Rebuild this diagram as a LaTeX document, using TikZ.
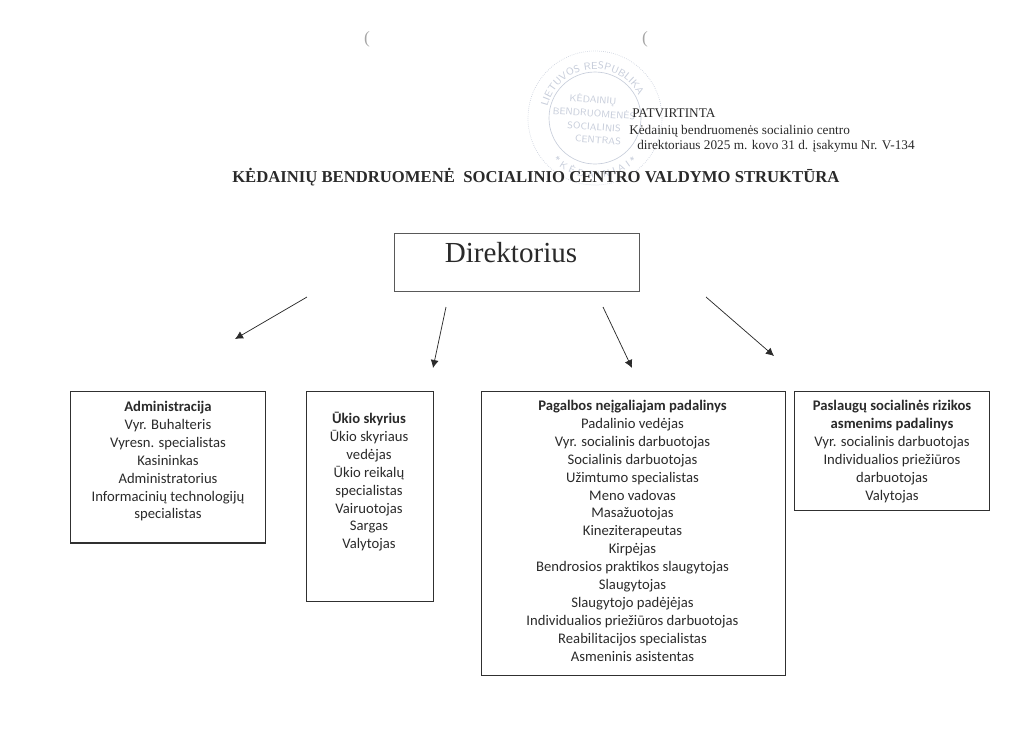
\documentclass[tikz,border=0pt]{standalone}
\usepackage{fontspec}
\setmainfont{Liberation Serif}
\newfontfamily\bodyfont{Carlito}
\usetikzlibrary{decorations.text,arrows.meta}
\definecolor{ink}{HTML}{2A2A2A}
\definecolor{boxline}{HTML}{303030}
\definecolor{stampc}{HTML}{C8CEDB}
\tikzset{
  x=0.75pt,y=-0.75pt,
  orgbox/.style={draw=boxline,line width=1pt,inner sep=0pt,anchor=north west},
  dirbox/.style={draw=boxline!80,line width=0.8pt,inner sep=0pt,anchor=north west},
  bodytext/.style={text=ink,inner sep=0pt,anchor=north,align=center,
    font=\bodyfont\fontsize{11pt}{13.42pt}\selectfont},
  serifline/.style={text=ink,inner sep=0pt,anchor=base west,font=\fontsize{9.95pt}{12pt}\selectfont},
  link/.style={draw=ink,line width=0.55pt,-{Latex[length=6pt,width=6pt]}},
  stampring/.style={draw=stampc,line width=0.5pt},
  stamptext/.style={text=stampc,inner sep=0pt,font=\fontsize{7.2pt}{8pt}\selectfont\sffamily,rotate=-4},
}
\begin{document}
\begin{tikzpicture}
\useasboundingbox (0,0) rectangle (1024,744);
% stamp
\draw[stampring,densely dotted] (595,118) circle[radius=67];
\draw[stampring] (595,118) circle[radius=46];
\path[decorate,decoration={text along path,text align=center,
  text={|\fontsize{7.6pt}{9pt}\selectfont\sffamily\color{stampc}|LIETUVOS RESPUBLIKA}}]
  (550.6,138.7) arc[start angle=155,end angle=371,radius=49];
\path[decorate,decoration={text along path,text align=center,
  text={|\fontsize{7.2pt}{8pt}\selectfont\sffamily\color{stampc}|* K Ė D A I N I A I *}}]
  (549,156.6) arc[start angle=140,end angle=40,radius=60];
\node[stamptext] (st1) at (593,100) {KĖDAINIŲ};
\node[stamptext] (st2) at (594,113) {BENDRUOMENĖS};
\node[stamptext] (st3) at (594,127) {SOCIALINIS};
\node[stamptext] (st4) at (598,140) {CENTRAS};
% scan marks
\node[text=gray!70,inner sep=0pt,font=\fontsize{13pt}{15pt}\selectfont] (pa) at (367,39) {(};
\node[text=gray!70,inner sep=0pt,font=\fontsize{13pt}{15pt}\selectfont] (pb) at (645,39) {(};
% header
\node[serifline] (h1) at (632,117.5) {PATVIRTINTA};
\node[serifline] (h2) at (629,134) {Kėdainių bendruomenės socialinio centro};
\node[serifline] (h3) at (637,149) {direktoriaus 2025 m. kovo 31 d. įsakymu Nr. V-134};
\node[text=ink,inner sep=0pt,anchor=base west,font=\bfseries\fontsize{12.5pt}{14pt}\selectfont] (title) at (232,182.5)
  {KĖDAINIŲ BENDRUOMENĖ\ \ SOCIALINIO CENTRO VALDYMO STRUKTŪRA};
% director
\node[dirbox,minimum width=184pt,minimum height=43.5pt] (dir) at (394,233) {};
\node[text=ink,inner sep=0pt,anchor=base,font=\fontsize{21.8pt}{24pt}\selectfont] (dirt) at (511,262) {Direktorius};
% boxes
\node[orgbox,minimum width=146pt,minimum height=113.5pt] (adm) at (70,391) {};
\node[orgbox,minimum width=95pt,minimum height=157.5pt] (uk) at (306,391) {};
\node[orgbox,minimum width=228pt,minimum height=213pt] (pag) at (481,391) {};
\node[orgbox,minimum width=146pt,minimum height=89pt] (pas) at (794,391) {};
\node[bodytext] (admt) at (168,401) {\textbf{Administracija}\\Vyr. Buhalteris\\Vyresn. specialistas\\Kasininkas\\Administratorius\\Informacinių technologijų\\specialistas};
\node[bodytext] (ukt) at (369,412) {\textbf{Ūkio skyrius}\\Ūkio skyriaus\\vedėjas\\Ūkio reikalų\\specialistas\\Vairuotojas\\Sargas\\Valytojas};
\node[bodytext] (pagt) at (632.5,400) {\textbf{Pagalbos neįgaliajam padalinys}\\Padalinio vedėjas\\Vyr. socialinis darbuotojas\\Socialinis darbuotojas\\Užimtumo specialistas\\Meno vadovas\\Masažuotojas\\Kineziterapeutas\\Kirpėjas\\Bendrosios praktikos slaugytojas\\Slaugytojas\\Slaugytojo padėjėjas\\Individualios priežiūros darbuotojas\\Reabilitacijos specialistas\\Asmeninis asistentas};
\node[bodytext] (past) at (892,400) {\textbf{Paslaugų socialinės rizikos}\\\textbf{asmenims padalinys}\\Vyr. socialinis darbuotojas\\Individualios priežiūros\\darbuotojas\\Valytojas};
% arrows
\coordinate (a1s) at (307,297);
\coordinate (a1e) at (235,339);
\coordinate (a2s) at (446,307);
\coordinate (a2e) at (433,368);
\coordinate (a3s) at (603,307);
\coordinate (a3e) at (632,368);
\coordinate (a4s) at (706,297);
\coordinate (a4e) at (774,356);
\draw[link] (a1s) -- (a1e);
\draw[link] (a2s) -- (a2e);
\draw[link] (a3s) -- (a3e);
\draw[link] (a4s) -- (a4e);
\end{tikzpicture}
\end{document}
